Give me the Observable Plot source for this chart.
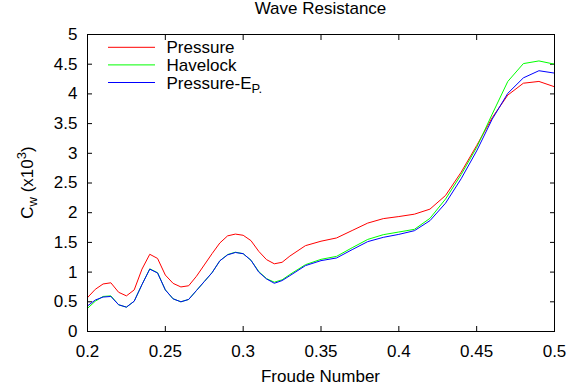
<!DOCTYPE html>
<html><head><meta charset="utf-8">
<script src="https://cdn.jsdelivr.net/npm/d3@7"></script>
<script src="https://cdn.jsdelivr.net/npm/@observablehq/plot@0.6"></script>
<style>body{margin:0;background:#fff} svg{display:block}</style>
</head><body><div id="chart"></div>
<script>
const froude = [0.200,0.205,0.210,0.215,0.220,0.225,0.230,0.235,0.240,0.245,0.250,0.255,0.260,0.265,0.270,0.275,0.280,0.285,0.290,0.295,0.300,0.305,0.310,0.315,0.320,0.325,
  0.33,0.34,0.35,0.36,0.37,0.38,0.39,0.40,0.41,0.42,0.43,0.44,0.45,0.46,0.47,0.48,0.49,0.50];
const pressure = [0.57,0.71,0.80,0.82,0.66,0.60,0.70,1.05,1.30,1.23,0.95,0.81,0.75,0.77,0.93,1.12,1.31,1.49,1.61,1.64,1.62,1.53,1.35,1.21,1.14,1.165,
  1.27,1.445,1.52,1.575,1.70,1.825,1.90,1.935,1.975,2.06,2.29,2.68,3.13,3.60,3.98,4.18,4.21,4.12];
const havelock = [0.39,0.51,0.59,0.60,0.45,0.41,0.51,0.79,1.055,0.99,0.70,0.55,0.50,0.54,0.69,0.84,0.99,1.19,1.295,1.335,1.31,1.20,1.01,0.89,0.83,0.87,
  0.96,1.125,1.215,1.265,1.41,1.55,1.63,1.675,1.72,1.905,2.23,2.64,3.10,3.66,4.21,4.51,4.555,4.50];
const pressureEP = [0.43,0.53,0.58,0.59,0.45,0.41,0.51,0.79,1.05,0.985,0.70,0.55,0.50,0.54,0.69,0.84,0.99,1.19,1.29,1.33,1.31,1.20,1.00,0.885,0.812,0.857,
  0.94,1.109,1.193,1.238,1.378,1.513,1.585,1.635,1.697,1.866,2.16,2.57,3.04,3.575,4.01,4.27,4.39,4.35];
const xTicks = [0.2,0.25,0.3,0.35,0.4,0.45,0.5];
const yTicks = [0,0.5,1,1.5,2,2.5,3,3.5,4,4.5,5];
const seriesNames = ["Pressure","Havelock","Pressure-EP."];
const seriesColors = ["#ff0000","#00ff00","#0000ff"];
const titleText = "Wave Resistance";
const xLabel = "Froude Number";

const rows = [];
[pressure, havelock, pressureEP].forEach((vals, i) =>
  vals.forEach((v, j) => rows.push({series: seriesNames[i], x: froude[j], y: v})));

const W = 577, H = 391, mL = 87, mR = 23, mT = 34, mB = 60;
const fmt = d => String(+d.toFixed(2));

const chart = Plot.plot({
  width: W, height: H,
  marginLeft: mL, marginRight: mR, marginTop: mT, marginBottom: mB,
  style: {fontFamily: "'Liberation Sans', Arial, sans-serif", fontSize: "17px", color: "#000", background: "#fff"},
  x: {domain: [0.2, 0.5]},
  y: {domain: [0, 5]},
  color: {domain: seriesNames, range: seriesColors},
  marks: [
    Plot.axisX(xTicks, {anchor: "bottom", tickSize: 0, tickPadding: 13, tickFormat: fmt, label: null}),
    Plot.axisX(xTicks, {anchor: "bottom", tickSize: -5, tickFormat: () => "", label: null}),
    Plot.axisX(xTicks, {anchor: "top", tickSize: -5, tickFormat: () => "", label: null}),
    Plot.axisY(yTicks, {anchor: "left", tickSize: 0, tickPadding: 10, tickFormat: fmt, label: null}),
    Plot.axisY(yTicks, {anchor: "left", tickSize: -5, tickFormat: () => "", label: null}),
    Plot.axisY(yTicks, {anchor: "right", tickSize: -5, tickFormat: () => "", label: null}),
    Plot.line(rows, {x: "x", y: "y", z: "series", stroke: "series", strokeWidth: 1}),
    Plot.frame({stroke: "#000", strokeWidth: 1})
  ]
});

const svg = d3.select(chart);
const font = "'Liberation Sans', Arial, sans-serif";
const cx = (mL + (W - mR)) / 2;
// title
svg.append("text").attr("x", cx).attr("y", 13.5).attr("text-anchor", "middle")
  .attr("font-family", font).attr("font-size", 17).attr("fill", "#000").text(titleText);
// x label
svg.append("text").attr("x", cx).attr("y", 381.5).attr("text-anchor", "middle")
  .attr("font-family", font).attr("font-size", 17).attr("fill", "#000").text(xLabel);
// y label
const yl = svg.append("text").attr("transform", `translate(33,${(mT + H - mB) / 2}) rotate(-90)`)
  .attr("text-anchor", "middle").attr("font-family", font).attr("font-size", 17).attr("fill", "#000");
yl.append("tspan").text("C");
yl.append("tspan").attr("dy", 4).attr("font-size", 13).text("w");
yl.append("tspan").attr("dy", -4).text(" (x10");
yl.append("tspan").attr("dy", -7).attr("font-size", 13).text("3");
yl.append("tspan").attr("dy", 7).text(")");
// legend
const leg = svg.append("g");
seriesNames.forEach((name, i) => {
  const y = 47.3 + i * 17.6;
  leg.append("line").attr("x1", 108).attr("x2", 155).attr("y1", y).attr("y2", y)
    .attr("stroke", seriesColors[i]).attr("stroke-width", 1);
  const t = leg.append("text").attr("x", 166.5).attr("y", y + 6).attr("text-anchor", "start")
    .attr("font-family", font).attr("font-size", 17).attr("fill", "#000");
  if (name === "Pressure-EP.") {
    t.append("tspan").text("Pressure-E");
    t.append("tspan").attr("dy", 4).attr("font-size", 13).text("P.");
  } else t.text(name);
});

document.getElementById("chart").appendChild(chart);
</script></body></html>
